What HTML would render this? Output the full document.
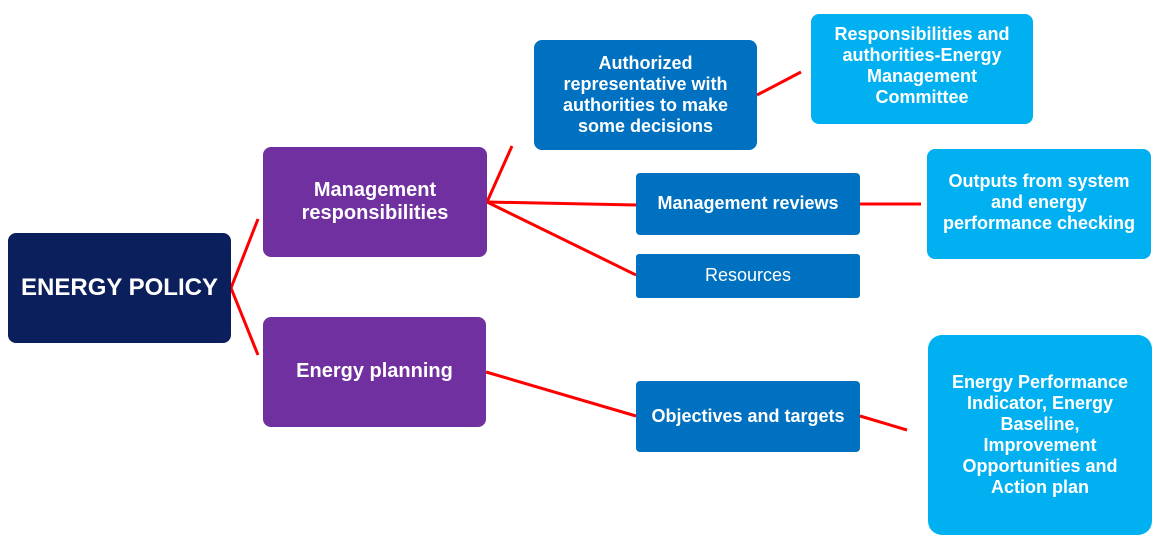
<!DOCTYPE html>
<html><head><meta charset="utf-8"><style>
body{margin:0;width:1163px;height:555px;background:#fff;position:relative;overflow:hidden;font-family:"Liberation Sans",Arial,sans-serif}
.n{position:absolute;display:flex;align-items:center;justify-content:center;text-align:center;color:#fff;font-weight:bold;box-sizing:border-box;line-height:1.17}
svg{position:absolute;left:0;top:0}
</style></head><body>
<svg width="1163" height="555">
<g stroke="#ff0000" stroke-width="3" fill="none">
<line x1="231" y1="288" x2="258" y2="219"/>
<line x1="231" y1="288" x2="258" y2="355"/>
<line x1="487" y1="202" x2="512" y2="146"/>
<line x1="487" y1="202" x2="636" y2="205"/>
<line x1="487" y1="202" x2="636" y2="275"/>
<line x1="757" y1="95" x2="801" y2="72"/>
<line x1="860" y1="204" x2="921" y2="204"/>
<line x1="486" y1="372" x2="636" y2="416"/>
<line x1="860" y1="416" x2="907" y2="430"/>
</g></svg>
<div class="n" style="left:8px;top:233px;width:223px;height:110px;background:#0b1f5c;border-radius:8px;font-size:24px">ENERGY POLICY</div>
<div class="n" style="left:263px;top:147px;width:224px;height:110px;background:#7030a0;border-radius:8px;font-size:20px">Management<br>responsibilities</div>
<div class="n" style="left:263px;top:317px;width:223px;height:110px;background:#7030a0;border-radius:8px;font-size:20px">Energy planning</div>
<div class="n" style="left:534px;top:40px;width:223px;height:110px;background:#0070c0;border-radius:8px;font-size:18px">Authorized<br>representative with<br>authorities to make<br>some decisions</div>
<div class="n" style="left:636px;top:173px;width:224px;height:62px;background:#0070c0;border-radius:4px;font-size:18px">Management reviews</div>
<div class="n" style="left:636px;top:254px;width:224px;height:44px;background:#0070c0;border-radius:3px;font-size:18px;font-weight:normal">Resources</div>
<div class="n" style="left:636px;top:381px;width:224px;height:71px;background:#0070c0;border-radius:4px;font-size:18px">Objectives and targets</div>
<div class="n" style="left:811px;top:14px;width:222px;height:110px;background:#00b0f0;border-radius:8px;font-size:18px;align-items:flex-start;padding-top:10px">Responsibilities and<br>authorities-Energy<br>Management<br>Committee</div>
<div class="n" style="left:927px;top:149px;width:224px;height:110px;background:#00b0f0;border-radius:8px;font-size:18px;align-items:flex-start;padding-top:22px">Outputs from system<br>and energy<br>performance checking</div>
<div class="n" style="left:928px;top:335px;width:224px;height:200px;background:#00b0f0;border-radius:14px;font-size:18px">Energy Performance<br>Indicator, Energy<br>Baseline,<br>Improvement<br>Opportunities and<br>Action plan</div>
</body></html>
